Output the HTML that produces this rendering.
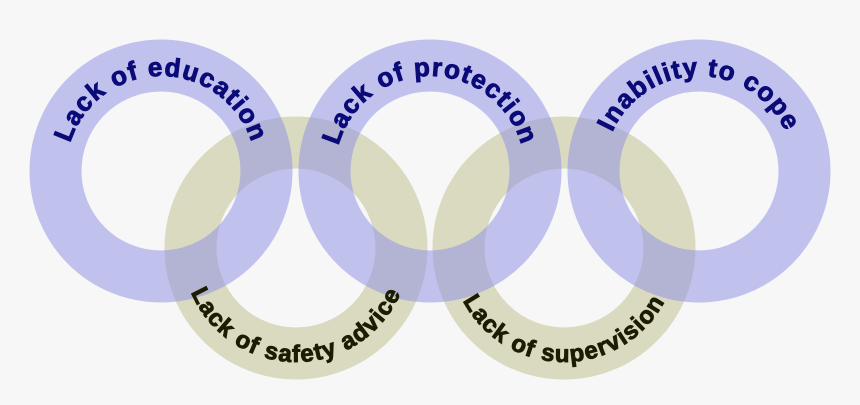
<!DOCTYPE html>
<html><head><meta charset="utf-8"><style>
html,body{margin:0;padding:0;background:#f7f7f7;}
svg{display:block;}
text{font-family:"Liberation Sans",sans-serif;font-weight:bold;}
</style></head><body>
<svg width="860" height="405" viewBox="0 0 860 405">
<defs>
<path id="t1" d="M66,171 A95,95 0 0 1 256,171"/>
<path id="t2" d="M335,171 A95,95 0 0 1 525,171"/>
<path id="t3" d="M604,171 A95,95 0 0 1 794,171"/>
<path id="b1" d="M182,248 A114,114 0 0 0 410,248"/>
<path id="b2" d="M450,248 A114,114 0 0 0 678,248"/>
</defs>
<g fill="none" stroke-width="52">
<circle cx="296" cy="248" r="105.5" stroke="rgba(190,190,140,0.5)"/>
<circle cx="564" cy="248" r="105.5" stroke="rgba(190,190,140,0.5)"/>
<circle cx="161" cy="171" r="105.5" stroke="rgba(140,140,230,0.5)"/>
<circle cx="430" cy="171" r="105.5" stroke="rgba(140,140,230,0.5)"/>
<circle cx="699" cy="171" r="105.5" stroke="rgba(140,140,230,0.5)"/>
</g>
<g fill="#0a0a78" stroke="#0a0a78" stroke-width="0.9" font-size="26" letter-spacing="1.2">
<text><textPath href="#t1" startOffset="50%" text-anchor="middle">Lack of education</textPath></text>
<text><textPath href="#t2" startOffset="50%" text-anchor="middle">Lack of protection</textPath></text>
<text><textPath href="#t3" startOffset="50%" text-anchor="middle">Inability to cope</textPath></text>
</g>
<g fill="#1c1c00" stroke="#1c1c00" stroke-width="0.9" font-size="24" letter-spacing="1.2">
<text><textPath href="#b1" startOffset="50%" text-anchor="middle">Lack of safety advice</textPath></text>
<text><textPath href="#b2" startOffset="50%" text-anchor="middle">Lack of supervision</textPath></text>
</g>
</svg>
</body></html>
